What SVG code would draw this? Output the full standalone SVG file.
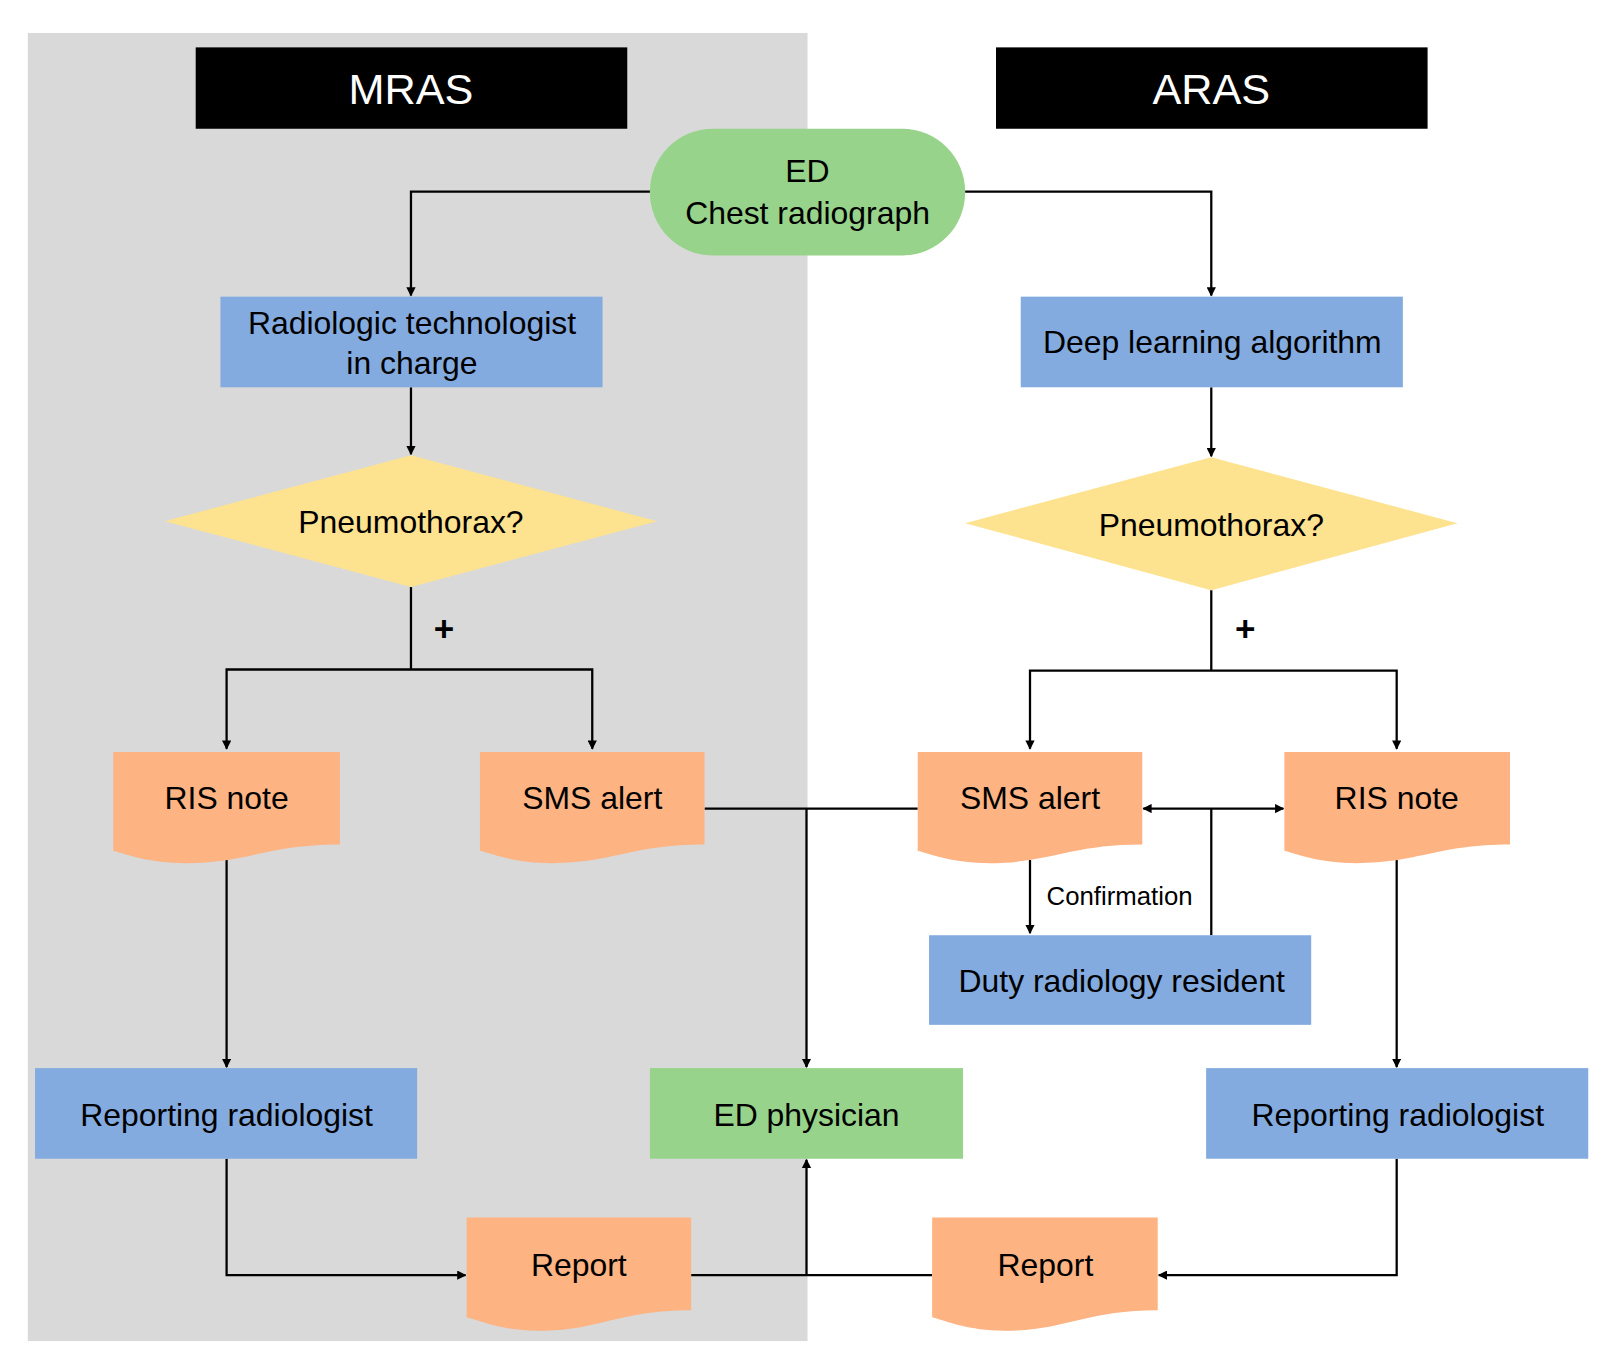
<svg xmlns="http://www.w3.org/2000/svg" width="1613" height="1366" viewBox="0 0 1613 1366">
<defs>
<marker id="ah" viewBox="0 0 10 10" refX="9" refY="5" markerWidth="9" markerHeight="9" markerUnits="userSpaceOnUse" orient="auto-start-reverse"><path d="M0,0 L10,5 L0,10 Z" fill="#000"/></marker>
<style>
text{font-family:"Liberation Sans",Arial,sans-serif;fill:#000;text-anchor:middle}
.t{font-size:31px}
.h{font-size:42px;fill:#fff}
.blue{fill:#84abdf}
.green{fill:#97d38a}
.doc{fill:#fdb382}
.dia{fill:#fde28f}
.c{fill:none;stroke:#000;stroke-width:2.2}
</style>
</defs>
<rect width="1613" height="1366" fill="#fff"/>
<g transform="scale(1.03)">
<rect x="27" y="32" width="757" height="1270" fill="#d9d9d9"/>
<g id="mras"><rect x="190" y="46" width="419" height="79" fill="#000"/><text class="h" x="399" y="101">MRAS</text></g>
<g id="aras"><rect x="967" y="46" width="419" height="79" fill="#000"/><text class="h" x="1176" y="101">ARAS</text></g>
<g id="connectors">
<path class="c" d="M631,186 H399 V287" marker-end="url(#ah)"/>
<path class="c" d="M937,186 H1176 V287" marker-end="url(#ah)"/>
<path class="c" d="M399,376 V441" marker-end="url(#ah)"/>
<path class="c" d="M1176,376 V443" marker-end="url(#ah)"/>
<path class="c" d="M399,570 V650"/>
<path class="c" d="M220,727 V650 H575 V727" marker-start="url(#ah)" marker-end="url(#ah)"/>
<path class="c" d="M1176,573 V651"/>
<path class="c" d="M1000,727 V651 H1356 V727" marker-start="url(#ah)" marker-end="url(#ah)"/>
<path class="c" d="M220,835 V1036" marker-end="url(#ah)"/>
<path class="c" d="M1356,835 V1036" marker-end="url(#ah)"/>
<path class="c" d="M684,785 H891"/>
<path class="c" d="M783,785 V1036" marker-end="url(#ah)"/>
<path class="c" d="M1110,785 H1246" marker-start="url(#ah)" marker-end="url(#ah)"/>
<path class="c" d="M1176,785 V908"/>
<path class="c" d="M1000,835 V906" marker-end="url(#ah)"/>
<path class="c" d="M220,1125 V1238 H452" marker-end="url(#ah)"/>
<path class="c" d="M1356,1125 V1238 H1125" marker-end="url(#ah)"/>
<path class="c" d="M671,1238 H905"/>
<path class="c" d="M783,1238 V1126" marker-end="url(#ah)"/>
<text x="1087" y="879" style="font-size:25px">Confirmation</text>
<text x="431" y="622" style="font-size:34px;font-weight:bold">+</text>
<text x="1209" y="622" style="font-size:34px;font-weight:bold">+</text>
</g>
<g id="ed"><rect class="green" x="631" y="125" width="306" height="123" rx="61"/><text class="t" x="784" y="177">ED</text><text class="t" x="784" y="217">Chest radiograph</text></g>
<g id="tech"><rect class="blue" x="214" y="288" width="371" height="88"/><text class="t" x="400" y="324">Radiologic technologist</text><text class="t" x="400" y="363">in charge</text></g>
<g id="dl"><rect class="blue" x="991" y="288" width="371" height="88"/><text class="t" x="1177" y="343">Deep learning algorithm</text></g>
<g id="pl"><path class="dia" d="M399,442 L638,506 L399,570 L160,506 Z"/><text class="t" x="399" y="517">Pneumothorax?</text></g>
<g id="pr"><path class="dia" d="M1176,444 L1415,508 L1176,573 L937,508 Z"/><text class="t" x="1176" y="520">Pneumothorax?</text></g>
<g id="risl"><path class="doc" d="M110,730 H330 V820 C260,820 240,838 180,838 C145,838 125,830 110,826 Z"/><text class="t" x="220" y="785">RIS note</text></g>
<g id="smsl"><path class="doc" d="M466,730 H684 V820 C614,820 594,838 536,838 C501,838 481,830 466,826 Z"/><text class="t" x="575" y="785">SMS alert</text></g>
<g id="smsr"><path class="doc" d="M891,730 H1109 V820 C1039,820 1019,838 961,838 C926,838 906,830 891,826 Z"/><text class="t" x="1000" y="785">SMS alert</text></g>
<g id="risr"><path class="doc" d="M1247,730 H1466 V820 C1396,820 1376,838 1317,838 C1282,838 1262,830 1247,826 Z"/><text class="t" x="1356" y="785">RIS note</text></g>
<g id="duty"><rect class="blue" x="902" y="908" width="371" height="87"/><text class="t" x="1089" y="963">Duty radiology resident</text></g>
<g id="repl"><rect class="blue" x="34" y="1037" width="371" height="88"/><text class="t" x="220" y="1093">Reporting radiologist</text></g>
<g id="edp"><rect class="green" x="631" y="1037" width="304" height="88"/><text class="t" x="783" y="1093">ED physician</text></g>
<g id="repr"><rect class="blue" x="1171" y="1037" width="371" height="88"/><text class="t" x="1357" y="1093">Reporting radiologist</text></g>
<g id="reportl"><path class="doc" d="M453,1182 H671 V1272 C601,1272 581,1292 523,1292 C488,1292 468,1283 453,1279 Z"/><text class="t" x="562" y="1239">Report</text></g>
<g id="reportr"><path class="doc" d="M905,1182 H1124 V1272 C1054,1272 1034,1292 975,1292 C940,1292 920,1283 905,1279 Z"/><text class="t" x="1015" y="1239">Report</text></g>
</g>
</svg>
